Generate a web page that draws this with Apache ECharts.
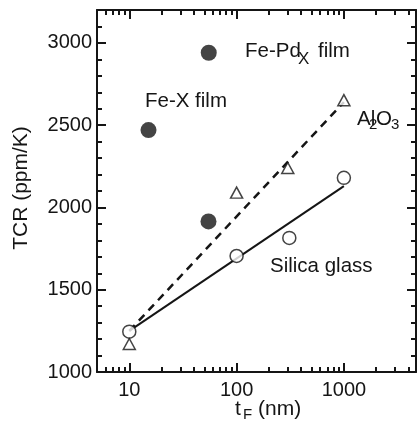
<!DOCTYPE html>
<html><head><meta charset="utf-8">
<script src="https://cdn.jsdelivr.net/npm/echarts@6/dist/echarts.min.js"></script>
<style>html,body{margin:0;padding:0;background:#fff}#c{width:418px;height:421px}</style>
</head><body><div id="c"></div>
<script>
// tick values
const xMajorTicks = [10, 100, 1000];
const xMinorTicks = [6, 7, 8, 9, 20, 30, 40, 50, 60, 70, 80, 90, 200, 300, 400, 500, 600, 700, 800, 900, 2000, 3000, 4000];
const yMajorTicks = [1000, 1500, 2000, 2500, 3000];
const yMinorTicks = [1100, 1200, 1300, 1400, 1600, 1700, 1800, 1900, 2100, 2200, 2300, 2400, 2600, 2700, 2800, 2900, 3100];
// data: [t_F (nm), TCR (ppm/K)]
const silicaPts = [[10, 1245], [100, 1705], [310, 1815], [1000, 2180]];
const silicaFit = [[10, 1250], [1000, 2130]];
const aluminaPts = [[10, 1170], [100, 2090], [300, 2240], [1000, 2652]];
const aluminaFit = [[10, 1250], [1000, 2640]];
const feXPts = [[15.1, 2470], [54.7, 1915]];
const fePdPts = [[55, 2940]];

const FONT = 'Liberation Sans, Arial, Helvetica, sans-serif';
const INK = '#151515';
const XMIN = 5, XMAX = 4700, YMIN = 1000, YMAX = 3200;
const fmt = v => String(Math.round(v));

function xAx(pos, ticks, len, labels) {
  return {
    type: 'log', logBase: 10, min: XMIN, max: XMAX, position: pos,
    axisLine: { show: labels !== null, lineStyle: { color: INK, width: 2 } },
    axisTick: { show: true, inside: true, length: len, customValues: ticks, lineStyle: { color: INK, width: 2 } },
    axisLabel: labels ? { show: true, customValues: labels, formatter: fmt, color: INK, fontFamily: FONT, fontSize: 20, margin: 8 } : { show: false },
    splitLine: { show: false }, minorTick: { show: false }
  };
}
function yAx(pos, ticks, len, labels) {
  return {
    type: 'value', min: YMIN, max: YMAX, position: pos,
    axisLine: { show: labels !== null, lineStyle: { color: INK, width: 2 } },
    axisTick: { show: true, inside: true, length: len, customValues: ticks, lineStyle: { color: INK, width: 2 } },
    axisLabel: labels ? { show: true, customValues: labels, formatter: fmt, color: INK, fontFamily: FONT, fontSize: 20, margin: 5 } : { show: false },
    splitLine: { show: false }
  };
}

const chart = echarts.init(document.getElementById('c'), null, { renderer: 'canvas' });
chart.setOption({
  animation: false,
  backgroundColor: '#fff',
  grid: { left: 97, right: 2, top: 10, bottom: 49, containLabel: false },
  xAxis: [
    xAx('bottom', xMajorTicks, 9, xMajorTicks),
    xAx('bottom', xMinorTicks, 5, null),
    xAx('top', xMajorTicks, 9, []),
    xAx('top', xMinorTicks, 5, null)
  ],
  yAxis: [
    yAx('left', yMajorTicks, 9, yMajorTicks),
    yAx('left', yMinorTicks, 5, null),
    yAx('right', yMajorTicks, 9, []),
    yAx('right', yMinorTicks, 5, null)
  ],
  series: [
    { type: 'line', data: silicaFit, showSymbol: false, symbol: 'none', lineStyle: { color: INK, width: 2 }, z: 2 },
    { type: 'line', data: aluminaFit, showSymbol: false, symbol: 'none', lineStyle: { color: INK, width: 2.5, type: [8, 6] }, z: 2 },
    { type: 'scatter', data: silicaPts, symbol: 'circle', symbolSize: 13, itemStyle: { color: '#fff', borderColor: INK, borderWidth: 1.5 }, z: 3 },
    { type: 'scatter', data: aluminaPts, symbol: 'triangle', symbolSize: [12, 11], itemStyle: { color: '#fff', borderColor: INK, borderWidth: 1.5 }, z: 3 },
    { type: 'scatter', data: feXPts, symbol: 'circle', symbolSize: 16, itemStyle: { color: INK }, z: 3 },
    { type: 'scatter', data: fePdPts, symbol: 'circle', symbolSize: 16, itemStyle: { color: INK }, z: 3 }
  ],
  graphic: [
    { type: 'text', left: 245, top: 41, style: { text: 'Fe-Pd', font: '20.5px ' + FONT, fill: INK } },
    { type: 'text', left: 298, top: 51, style: { text: 'X', font: '17px ' + FONT, fill: INK } },
    { type: 'text', left: 318, top: 41, style: { text: 'film', font: '20.5px ' + FONT, fill: INK } },
    { type: 'text', left: 145, top: 91, style: { text: 'Fe-X film', font: '20.5px ' + FONT, fill: INK } },
    { type: 'text', left: 357, top: 109, style: { text: 'Al', font: '20.5px ' + FONT, fill: INK } },
    { type: 'text', left: 369, top: 117, style: { text: '2', font: '15px ' + FONT, fill: INK } },
    { type: 'text', left: 376, top: 109, style: { text: 'O', font: '20.5px ' + FONT, fill: INK } },
    { type: 'text', left: 391, top: 117, style: { text: '3', font: '15px ' + FONT, fill: INK } },
    { type: 'text', left: 270, top: 256, style: { text: 'Silica glass', font: '20.5px ' + FONT, fill: INK } },
    { type: 'text', left: 235, top: 399, style: { text: 't', font: '21px ' + FONT, fill: INK } },
    { type: 'text', left: 243, top: 407, style: { text: 'F', font: '15px ' + FONT, fill: INK } },
    { type: 'text', left: 258, top: 399, style: { text: '(nm)', font: '21px ' + FONT, fill: INK } },
    { type: 'text', x: 21, y: 188, rotation: Math.PI / 2, style: { text: 'TCR (ppm/K)', font: '21px ' + FONT, fill: INK, align: 'center', verticalAlign: 'middle' } }
  ]
});
</script>
</body></html>
